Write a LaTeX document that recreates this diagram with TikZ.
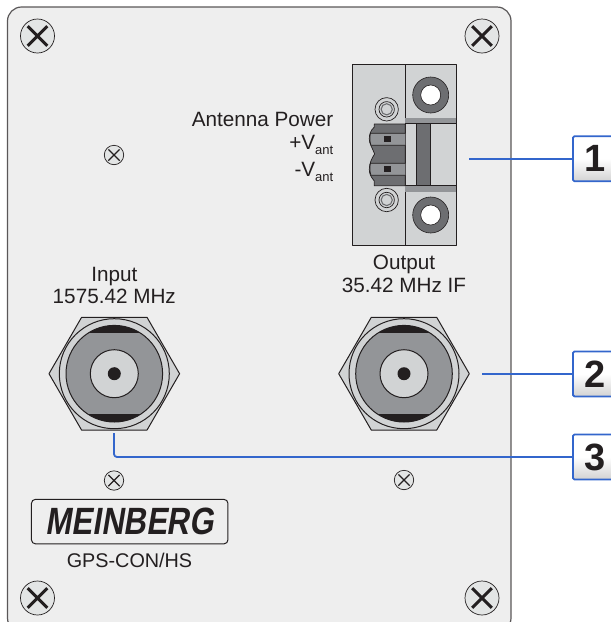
\documentclass[tikz,border=0pt]{standalone}
\usepackage{fontspec}
\setmainfont{Liberation Sans}
\newfontfamily\logofont[FakeSlant=0.2]{Liberation Sans Bold}
\usetikzlibrary{calc}

\definecolor{panelgray}{HTML}{EEEEEE}
\definecolor{partlight}{HTML}{D1D3D4}
\definecolor{partmid}{HTML}{939598}
\definecolor{partdark}{HTML}{6D6E71}
\definecolor{partblack}{HTML}{231F20}
\definecolor{calloutblue}{HTML}{3366CC}

\newcommand{\antsub}{\raisebox{-5.5pt}{\fontsize{13}{13}\selectfont ant}}

\begin{document}
\begin{tikzpicture}[x=1pt, y=-1pt, line join=round]
  \tikzset{
    outline/.style={draw=partblack, line width=1pt},
    paneltext/.style={text=partblack, inner sep=0pt, anchor=base, font=\fontsize{20.7}{24}\selectfont},
    callout/.style={draw=calloutblue, line width=1.8pt, rounded corners=1.5pt,
      top color=white, bottom color=gray!35, middle color=white,
      minimum width=70pt, minimum height=45pt, inner sep=0pt,
      anchor=west, text=partblack},
    leader/.style={draw=calloutblue, line width=1.8pt, rounded corners=3pt},
    % #1 = outer radius of a panel screw
    % #2 = width of the cross
    pics/panel-screw/.style n args={2}{
      code={
        \draw[draw=partblack, fill=partlight!60, line width=.7pt] (0,0) circle (#1);
        \draw[draw=partblack, line width=#2]
          (-#1*0.58,-#1*0.58) -- (#1*0.58,#1*0.58)
          (-#1*0.58,#1*0.58) -- (#1*0.58,-#1*0.58);
      }
    },
    pics/bnc-socket/.style={
      code={
        % Hexagon nut, then the rings from the outside in
        \draw[outline, fill=partlight]
          (-65.3,0) -- (-32.7,-56.4) -- (32.7,-56.4) -- (65.3,0)
          -- (32.7,56.4) -- (-32.7,56.4) -- cycle;
        \draw[outline, fill=partlight] (0,0) circle (55);
        \fill[partmid] (0,0) circle (48.3);
        \begin{scope}
          \clip (0,0) circle (48.3);
          \fill[partblack] (-50,-50) rectangle (50,-40.3);
          \fill[partblack] (-50,40.3) rectangle (50,50);
        \end{scope}
        \draw[outline] (0,0) circle (48.3);
        \draw[outline, fill=partlight] (0,0) circle (24);
        \fill[partblack] (0,0) circle (6.5);
      }
    },
    pics/terminal-ring/.style={
      code={
        \draw[outline, line width=.7pt] (0,0) circle (11.7);
        \draw[outline, line width=.7pt] (0,0) circle (7.7);
        \draw[draw=partdark, line width=1.1pt] (0,0) circle (5.6);
      }
    },
    pics/terminal-hole/.style={
      code={
        \draw[draw=partblack, fill=partdark, line width=.6pt] (0,0) circle (18);
        \draw[draw=partblack, fill=white, line width=.6pt] (0,0) circle (10);
      }
    }
  }

  \clip (0,0) rectangle (611,622);

  % Front panel
  \draw[draw=partblack!75, fill=panelgray, line width=1.2pt, rounded corners=14pt]
    (7.5,7) rectangle (511,632);

  \foreach \sx/\sy in {37.5/36, 482/36, 37.5/598, 482/598}{
    \pic at (\sx,\sy) {panel-screw={17}{2.9pt}};
  }
  \foreach \sx/\sy in {114/155, 114/480.5, 404/480}{
    \pic at (\sx,\sy) {panel-screw={9.7}{1.2pt}};
  }

  % Terminal block
  \draw[outline, fill=partlight] (352.3,64.3) rectangle (456,245);
  \draw[outline] (405.3,64.3) -- (405.3,245);
  \fill[partmid] (405.3,117.7) rectangle (456,123.5);
  \fill[partmid] (405.3,185.7) rectangle (456,192.3);
  \draw[outline, line width=.7pt] (405.3,123.5) -- (456,123.5) (405.3,185.7) -- (456,185.7);
  \draw[outline, line width=.7pt, fill=partdark] (416.3,123.5) rectangle (430.3,185.7);
  \draw[outline, line width=.7pt, fill=partdark]
    (405.3,124) -- (374.3,124) -- (374.3,127)
    .. controls (370,131) and (369.3,135) .. (369.3,139)
    .. controls (369.3,144) and (372,147) .. (374.6,154)
    .. controls (372,158) and (369.3,163) .. (369.3,169.3)
    .. controls (369.3,174) and (371,177) .. (374.3,181)
    -- (374.3,185.7) -- (405.3,185.7) -- cycle;
  \foreach \by in {133.3, 163.3}{
    \draw[outline, line width=.7pt, fill=partmid]
      (405.3,\by) -- (370.5,\by) .. controls (369.6,\by+4) and (369.6,\by+8) .. (371,\by+12)
      -- (405.3,\by+12);
    \fill[partblack] (383.8,\by+2.7) rectangle (390.8,\by+8.7);
  }
  \pic at (386.7,109.3) {terminal-ring};
  \pic at (386.7,200) {terminal-ring};
  \pic at (430.7,95) {terminal-hole};
  \pic at (430.7,215) {terminal-hole};

  % BNC sockets
  \pic at (114.3,373.7) {bnc-socket};
  \pic at (404,373.7) {bnc-socket};

  % Panel labels
  \node[paneltext, anchor=base east] (antenna) at (333.5,126.7) {Antenna Power};
  \node[paneltext, anchor=base east] (vplus) at (333.5,149.3) {+V\antsub};
  \node[paneltext, anchor=base east] (vminus) at (333.5,176) {-V\antsub};
  \node[paneltext] (input) at (114.3,281) {Input};
  \node[paneltext] (inputfreq) at (114.3,303.7) {1575.42 MHz};
  \node[paneltext] (output) at (404,269) {Output};
  \node[paneltext] (outputfreq) at (404,292) {35.42 MHz IF};
  \node[paneltext, font=\fontsize{19.8}{24}\selectfont] (model) at (129.5,567) {GPS-CON/HS};

  % Logo
  \node[draw=partblack, line width=1pt, rounded corners=4pt, fill=panelgray,
    minimum width=196.5pt, minimum height=44.5pt, inner sep=0pt] (logo) at (129.7,521.6)
    {\fontsize{38}{38}\logofont\color{partblack}\scalebox{.82}[1]{MEINBERG}};

  % Callouts
  \node[callout] (call1) at (572,158.7) {};
  \node[callout] (call2) at (572,373.9) {};
  \node[callout] (call3) at (572,457) {};
  \foreach \n/\ty in {1/158.7, 2/373.9, 3/457}{
    \node[text=partblack, inner sep=0pt, font=\fontsize{38}{38}\selectfont\bfseries]
      (num\n) at (595,\ty) {\n};
  }
  \coordinate (from1) at (469,158.7);
  \coordinate (from2) at (482,373.9);
  \coordinate (from3) at (114,433);
  \draw[leader] (from1) -- (call1.west);
  \draw[leader] (from2) -- (call2.west);
  \draw[leader] (from3) |- (call3.west);
\end{tikzpicture}
\end{document}
